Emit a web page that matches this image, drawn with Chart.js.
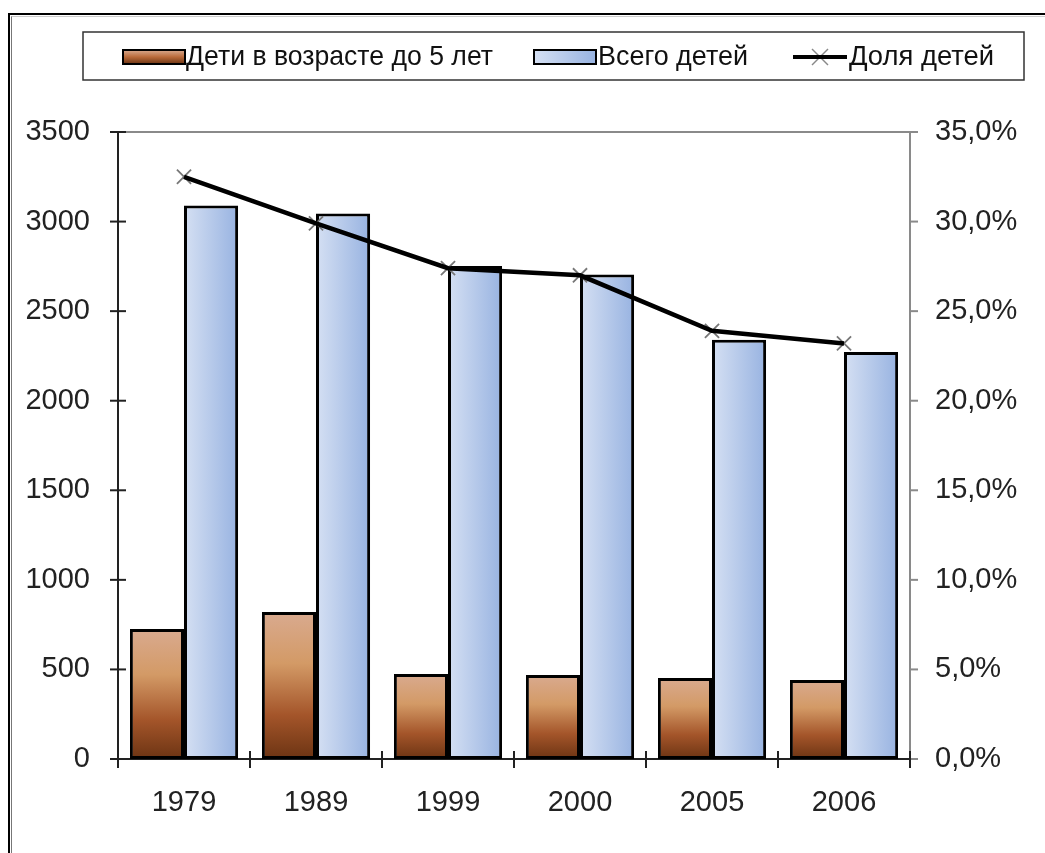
<!DOCTYPE html>
<html>
<head>
<meta charset="utf-8">
<script src="https://cdn.jsdelivr.net/npm/chart.js@4.4.1/dist/chart.umd.min.js"></script>
<style>
  html, body { margin: 0; padding: 0; background: #fff; }
  #wrap { position: relative; width: 1045px; height: 853px; overflow: hidden; }
  #c { position: absolute; left: 0; top: 0; }
  .frame { position: absolute; left: 8px; top: 13px; width: 1100px; height: 900px;
           border-left: 2px solid #000; border-top: 2px solid #000; pointer-events: none; }
  .frame2 { position: absolute; left: 11px; top: 16px; width: 1100px; height: 900px;
            border-left: 1px solid #777; border-top: 1px solid #ccc; pointer-events: none; }
</style>
</head>
<body>
<div id="wrap">
  <canvas id="c" width="1045" height="853"></canvas>
  <div class="frame"></div>
  <div class="frame2"></div>
</div>
<script>
// values
const years = ['1979', '1989', '1999', '2000', '2005', '2006'];
const under5 = [725, 820, 474, 469, 452, 441];          // Дети в возрасте до 5 лет
const totalKids = [3090, 3045, 2752, 2705, 2340, 2272]; // Всего детей
const sharePct = [32.5, 29.9, 27.4, 27.0, 23.9, 23.2];  // Доля детей, %
const legendNames = ['Дети в возрасте до 5 лет', 'Всего детей', 'Доля детей'];

const groupPct = 0.82;

Chart.defaults.font.family = 'Liberation Sans, Arial, sans-serif';
Chart.defaults.font.size = 29;
Chart.defaults.color = '#222';

// brown bars: light top -> dark bottom, per bar
function brownFill(ctx) {
  const y = ctx.chart.scales.y;
  if (!y || ctx.raw == null) return '#b06a3a';
  const top = y.getPixelForValue(ctx.raw), base = y.getPixelForValue(0);
  if (!Number.isFinite(top) || !Number.isFinite(base) || top === base) return '#b06a3a';
  const g = ctx.chart.ctx.createLinearGradient(0, top, 0, base);
  g.addColorStop(0, '#d9aa8f');
  g.addColorStop(0.35, '#d39a66');
  g.addColorStop(0.7, '#a4552a');
  g.addColorStop(1, '#6c3413');
  return g;
}

// blue bars: light left -> darker right, per bar
function blueFill(ctx) {
  const x = ctx.chart.scales.x;
  if (!x || ctx.dataIndex == null) return '#b8cbeb';
  const c = x.getPixelForValue(ctx.dataIndex);
  const w = x.width / years.length * groupPct / 2;
  if (!Number.isFinite(c) || !Number.isFinite(w) || w <= 0) return '#b8cbeb';
  const g = ctx.chart.ctx.createLinearGradient(c, 0, c + w, 0);
  g.addColorStop(0, '#d5e0f3');
  g.addColorStop(1, '#98b3e1');
  return g;
}

function seg(c, x1, y1, x2, y2) {
  c.beginPath(); c.moveTo(x1, y1); c.lineTo(x2, y2); c.stroke();
}

const decor = {
  id: 'decor',
  afterDraw(chart) {
    const c = chart.ctx, a = chart.chartArea;
    const y = chart.scales.y, y1 = chart.scales.y1;
    c.save();
    // plot frame top (gray)
    c.strokeStyle = '#8a8a8a'; c.lineWidth = 2;
    seg(c, a.left, a.top, a.right, a.top);
    // right axis ticks, outward
    y1.ticks.forEach((t, i) => { const p = y1.getPixelForTick(i); seg(c, a.right, p, a.right + 8, p); });
    // left axis ticks, crossing
    c.strokeStyle = '#222';
    y.ticks.forEach((t, i) => { const p = y.getPixelForTick(i); seg(c, a.left - 8, p, a.left + 8, p); });
    // category ticks, crossing
    const step = (a.right - a.left) / years.length;
    for (let i = 0; i <= years.length; i++) {
      const px = a.left + i * step;
      seg(c, px, a.bottom - 8, px, a.bottom + 9);
    }

    // legend
    c.strokeStyle = '#333'; c.lineWidth = 1.5;
    c.strokeRect(83, 32, 941, 48);
    c.font = '28px "Liberation Sans", Arial, sans-serif';
    c.textBaseline = 'middle';
    const ly = 57;
    // brown swatch
    let g = c.createLinearGradient(0, ly - 7, 0, ly + 7);
    g.addColorStop(0, '#d9aa8f'); g.addColorStop(0.5, '#b96a3a'); g.addColorStop(1, '#6c3413');
    c.fillStyle = g; c.fillRect(123, ly - 7, 62, 14);
    c.strokeStyle = '#000'; c.lineWidth = 2; c.strokeRect(123, ly - 7, 62, 14);
    c.fillStyle = '#111'; c.fillText(legendNames[0], 186, ly, 307);
    // blue swatch
    g = c.createLinearGradient(534, 0, 596, 0);
    g.addColorStop(0, '#d5e0f3'); g.addColorStop(1, '#98b3e1');
    c.fillStyle = g; c.fillRect(534, ly - 7, 62, 14);
    c.strokeRect(534, ly - 7, 62, 14);
    c.fillStyle = '#111'; c.fillText(legendNames[1], 598, ly, 150);
    // line with cross
    c.strokeStyle = '#888'; c.lineWidth = 1.5;
    seg(c, 812, ly - 8, 828, ly + 8); seg(c, 812, ly + 8, 828, ly - 8);
    c.strokeStyle = '#000'; c.lineWidth = 4;
    seg(c, 793, ly, 847, ly);
    c.fillStyle = '#111'; c.fillText(legendNames[2], 849, ly, 145);
    c.restore();
  }
};

const chart = new Chart(document.getElementById('c'), {
  type: 'bar',
  data: {
    labels: years,
    datasets: [
      {
        type: 'line', label: legendNames[2], data: sharePct, yAxisID: 'y1', order: 0,
        borderColor: '#000', borderWidth: 4.5, pointRadius: 0, tension: 0, fill: false
      },
      {
        type: 'line', label: 'markers', data: sharePct, yAxisID: 'y1', order: 1,
        showLine: false, pointStyle: 'crossRot', pointRadius: 10,
        pointBorderColor: '#777', pointBorderWidth: 1.8
      },
      {
        label: legendNames[0], data: under5, yAxisID: 'y', order: 2,
        backgroundColor: brownFill, borderColor: '#000', borderWidth: 3, borderSkipped: false,
        barPercentage: 1, categoryPercentage: groupPct
      },
      {
        label: legendNames[1], data: totalKids, yAxisID: 'y', order: 3,
        backgroundColor: blueFill, borderColor: '#000', borderWidth: 3, borderSkipped: false,
        barPercentage: 1, categoryPercentage: groupPct
      }
    ]
  },
  options: {
    responsive: false,
    animation: false,
    layout: { padding: { top: 132, left: 0, right: 0, bottom: 0 } },
    plugins: { legend: { display: false }, tooltip: { enabled: false } },
    scales: {
      x: {
        grid: { display: false, drawTicks: false },
        border: { display: true, color: '#222', width: 2 },
        ticks: { padding: 27, color: '#222' },
        afterFit(s) { s.height = 94; }
      },
      y: {
        position: 'left', min: 0, max: 3500,
        grid: { display: false, drawTicks: false },
        border: { display: true, color: '#222', width: 2 },
        ticks: { stepSize: 500, padding: 28, color: '#222', callback: v => String(v) },
        afterFit(s) { s.width = 118; }
      },
      y1: {
        position: 'right', min: 0, max: 35,
        grid: { display: false, drawTicks: false },
        border: { display: true, color: '#8a8a8a', width: 2 },
        ticks: {
          stepSize: 5, padding: 25, color: '#222',
          callback: v => v.toFixed(1).replace('.', ',') + '%'
        },
        afterFit(s) { s.width = 135; }
      }
    }
  },
  plugins: [decor]
});
// second pass so the per-bar gradients see laid-out scales
chart.update();
</script>
</body>
</html>
